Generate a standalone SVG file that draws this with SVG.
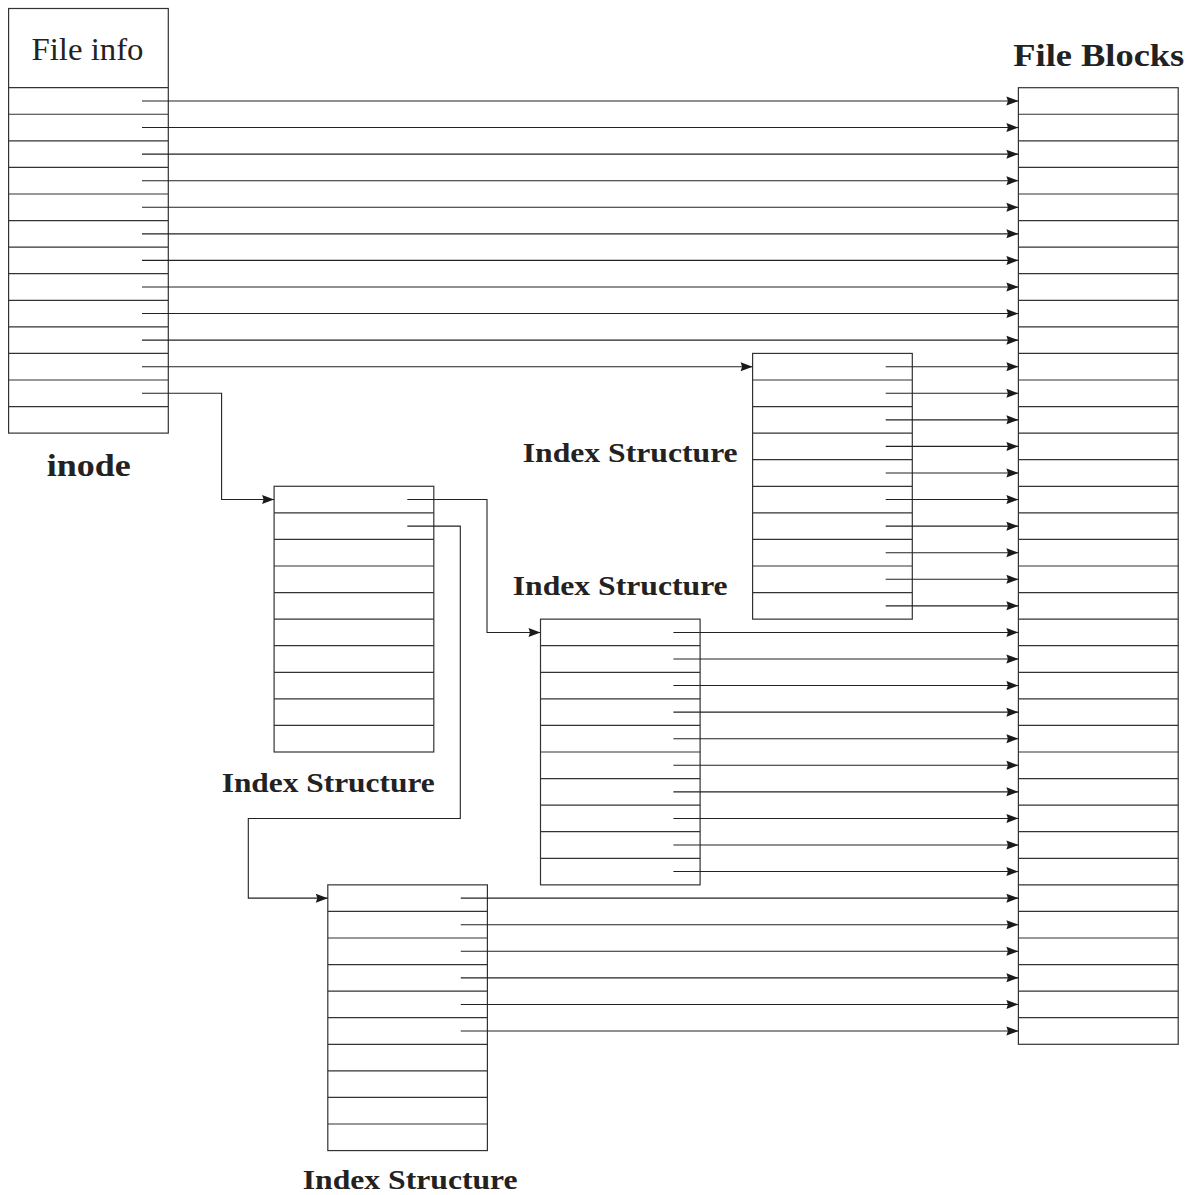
<svg xmlns="http://www.w3.org/2000/svg" width="1196" height="1195" viewBox="0 0 1196 1195">
<style>
.box{fill:#fff;stroke:#333;stroke-width:1.2}
.row{stroke:#333;stroke-width:1.2}
.arr{fill:none;stroke:#222;stroke-width:1.1;marker-end:url(#ah)}
.t{font-family:"Liberation Serif","DejaVu Serif",serif;fill:#222}
.b{font-weight:bold}
</style>
<defs>
<marker id="ah" markerUnits="userSpaceOnUse" markerWidth="13" markerHeight="10" refX="12" refY="4.5" orient="auto" overflow="visible">
<path d="M0,0 L12,4.5 L0,9 L1.5,4.5 Z" fill="#1a1a1a"/>
</marker>
</defs>
<rect width="1196" height="1195" fill="#fff"/>

<g id="inode">
<rect class="box" x="8.6" y="8.5" width="159.7" height="424.6"/>
<path class="row" d="M8.6,87.7H168.3M8.6,114.27H168.3M8.6,140.84H168.3M8.6,167.42H168.3M8.6,193.99H168.3M8.6,220.56H168.3M8.6,247.13H168.3M8.6,273.7H168.3M8.6,300.28H168.3M8.6,326.85H168.3M8.6,353.42H168.3M8.6,379.99H168.3M8.6,406.56H168.3"/>
<text class="t" x="87.5" y="59.5" font-size="32" text-anchor="middle" textLength="112" lengthAdjust="spacingAndGlyphs">File info</text>
<text class="t b" x="46.7" y="476" font-size="32" textLength="84" lengthAdjust="spacingAndGlyphs">inode</text>
</g>

<g id="fileblocks">
<rect class="box" x="1018.4" y="87.7" width="159.8" height="956.6"/>
<path class="row" d="M1018.4,114.27H1178.2M1018.4,140.84H1178.2M1018.4,167.42H1178.2M1018.4,193.99H1178.2M1018.4,220.56H1178.2M1018.4,247.13H1178.2M1018.4,273.7H1178.2M1018.4,300.28H1178.2M1018.4,326.85H1178.2M1018.4,353.42H1178.2M1018.4,379.99H1178.2M1018.4,406.56H1178.2M1018.4,433.14H1178.2M1018.4,459.71H1178.2M1018.4,486.28H1178.2M1018.4,512.85H1178.2M1018.4,539.42H1178.2M1018.4,566H1178.2M1018.4,592.57H1178.2M1018.4,619.14H1178.2M1018.4,645.71H1178.2M1018.4,672.28H1178.2M1018.4,698.86H1178.2M1018.4,725.43H1178.2M1018.4,752H1178.2M1018.4,778.57H1178.2M1018.4,805.14H1178.2M1018.4,831.72H1178.2M1018.4,858.29H1178.2M1018.4,884.86H1178.2M1018.4,911.43H1178.2M1018.4,938H1178.2M1018.4,964.58H1178.2M1018.4,991.15H1178.2M1018.4,1017.72H1178.2"/>
<text class="t b" x="1013.3" y="66" font-size="32" textLength="171" lengthAdjust="spacingAndGlyphs">File Blocks</text>
</g>

<g id="indexA">
<rect class="box" x="752.6" y="353.42" width="159.7" height="265.72"/>
<path class="row" d="M752.6,379.99H912.3M752.6,406.56H912.3M752.6,433.14H912.3M752.6,459.71H912.3M752.6,486.28H912.3M752.6,512.85H912.3M752.6,539.42H912.3M752.6,566H912.3M752.6,592.57H912.3"/>
<text class="t b" x="522.7" y="461.5" font-size="28" textLength="215" lengthAdjust="spacingAndGlyphs">Index Structure</text>
</g>

<g id="indexB">
<rect class="box" x="274.1" y="486.28" width="159.7" height="265.72"/>
<path class="row" d="M274.1,512.85H433.8M274.1,539.42H433.8M274.1,566H433.8M274.1,592.57H433.8M274.1,619.14H433.8M274.1,645.71H433.8M274.1,672.28H433.8M274.1,698.86H433.8M274.1,725.43H433.8"/>
<text class="t b" x="221.7" y="792" font-size="28" textLength="213" lengthAdjust="spacingAndGlyphs">Index Structure</text>
</g>

<g id="indexC">
<rect class="box" x="540.5" y="619.14" width="159.6" height="265.72"/>
<path class="row" d="M540.5,645.71H700.1M540.5,672.28H700.1M540.5,698.86H700.1M540.5,725.43H700.1M540.5,752H700.1M540.5,778.57H700.1M540.5,805.14H700.1M540.5,831.72H700.1M540.5,858.29H700.1"/>
<text class="t b" x="512.7" y="594.5" font-size="28" textLength="215" lengthAdjust="spacingAndGlyphs">Index Structure</text>
</g>

<g id="indexD">
<rect class="box" x="327.8" y="884.86" width="159.6" height="265.72"/>
<path class="row" d="M327.8,911.43H487.4M327.8,938H487.4M327.8,964.58H487.4M327.8,991.15H487.4M327.8,1017.72H487.4M327.8,1044.29H487.4M327.8,1070.86H487.4M327.8,1097.43H487.4M327.8,1124.01H487.4"/>
<text class="t b" x="302.7" y="1189" font-size="27" textLength="215" lengthAdjust="spacingAndGlyphs">Index Structure</text>
</g>

<g id="connectors">
<path class="arr" d="M142,100.99H1018.4"/>
<path class="arr" d="M142,127.56H1018.4"/>
<path class="arr" d="M142,154.13H1018.4"/>
<path class="arr" d="M142,180.7H1018.4"/>
<path class="arr" d="M142,207.28H1018.4"/>
<path class="arr" d="M142,233.85H1018.4"/>
<path class="arr" d="M142,260.42H1018.4"/>
<path class="arr" d="M142,286.99H1018.4"/>
<path class="arr" d="M142,313.56H1018.4"/>
<path class="arr" d="M142,340.13H1018.4"/>
<path class="arr" d="M142,366.71H752.6"/>
<path class="arr" d="M142,393.28H221.6V499.57H274.1"/>

<path class="arr" d="M885.7,366.71H1018.4"/>
<path class="arr" d="M885.7,393.28H1018.4"/>
<path class="arr" d="M885.7,419.85H1018.4"/>
<path class="arr" d="M885.7,446.42H1018.4"/>
<path class="arr" d="M885.7,472.99H1018.4"/>
<path class="arr" d="M885.7,499.57H1018.4"/>
<path class="arr" d="M885.7,526.14H1018.4"/>
<path class="arr" d="M885.7,552.71H1018.4"/>
<path class="arr" d="M885.7,579.28H1018.4"/>
<path class="arr" d="M885.7,605.85H1018.4"/>

<path class="arr" d="M407.3,499.57H487V632.43H540.5"/>
<path class="arr" d="M407.3,526.14H460.3V818.43H248.3V898.14H327.8"/>

<path class="arr" d="M673.4,632.43H1018.4"/>
<path class="arr" d="M673.4,659H1018.4"/>
<path class="arr" d="M673.4,685.57H1018.4"/>
<path class="arr" d="M673.4,712.14H1018.4"/>
<path class="arr" d="M673.4,738.71H1018.4"/>
<path class="arr" d="M673.4,765.29H1018.4"/>
<path class="arr" d="M673.4,791.86H1018.4"/>
<path class="arr" d="M673.4,818.43H1018.4"/>
<path class="arr" d="M673.4,845H1018.4"/>
<path class="arr" d="M673.4,871.57H1018.4"/>

<path class="arr" d="M460.8,898.14H1018.4"/>
<path class="arr" d="M460.8,924.72H1018.4"/>
<path class="arr" d="M460.8,951.29H1018.4"/>
<path class="arr" d="M460.8,977.86H1018.4"/>
<path class="arr" d="M460.8,1004.43H1018.4"/>
<path class="arr" d="M460.8,1031H1018.4"/>
</g>
</svg>
